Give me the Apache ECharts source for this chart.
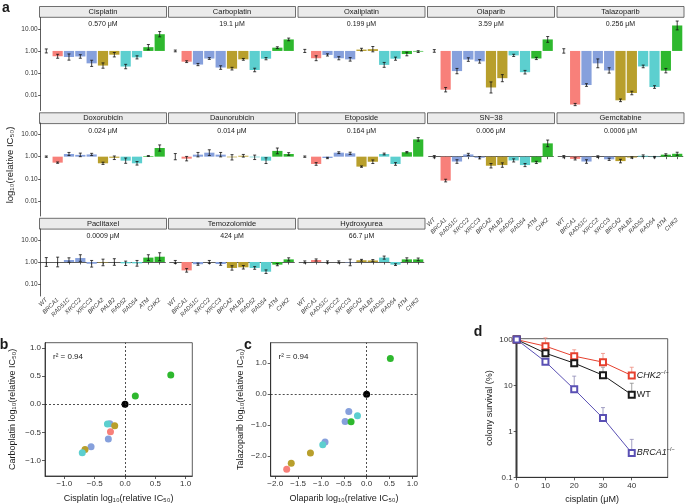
<!DOCTYPE html>
<html><head><meta charset="utf-8">
<script src="https://cdn.jsdelivr.net/npm/echarts@6/dist/echarts.min.js"></script>
<style>html,body{margin:0;padding:0;background:#fff}#c{width:685px;height:504px}</style>
</head><body><div id="c"></div>
<script>
// ---------------- DATA ----------------
const genes = ['WT','BRCA1','RAD51C','XRCC2','XRCC3','BRCA2','PALB2','RAD52','RAD54','ATM','CHK2'];
const drugs = ['Cisplatin','Carboplatin','Oxaliplatin','Olaparib','Talazoparib','Doxorubicin','Daunorubicin','Etoposide','SN\u221238','Gemcitabine','Paclitaxel','Temozolomide','Hydroxyurea'];
const wtIC50 = ['0.570 \u03bcM','19.1 \u03bcM','0.199 \u03bcM','3.59 \u03bcM','0.256 \u03bcM','0.024 \u03bcM','0.014 \u03bcM','0.164 \u03bcM','0.006 \u03bcM','0.0006 \u03bcM','0.0009 \u03bcM','424 \u03bcM','66.7 \u03bcM'];
// log10(relative IC50), gene order as in `genes`; *Err = half error bar (log units)
const cisplatin      = [0, -0.24, -0.275, -0.25, -0.56, -0.66, -0.17, -0.705, -0.29, 0.17, 0.755];
const cisplatinErr   = [0.09, 0.09, 0.14, 0.08, 0.14, 0.12, 0.10, 0.10, 0.07, 0.12, 0.12];
const carboplatin    = [0, -0.485, -0.615, -0.343, -0.75, -0.80, -0.38, -0.86, -0.35, 0.148, 0.52];
const carboplatinErr = [0.04, 0.04, 0.05, 0.04, 0.08, 0.06, 0.04, 0.08, 0.05, 0.04, 0.06];
const oxaliplatin    = [0, -0.33, -0.18, -0.33, -0.38, 0.06, 0.08, -0.63, -0.35, -0.14, -0.03];
const oxaliplatinErr = [0.07, 0.11, 0.05, 0.07, 0.08, 0.06, 0.12, 0.11, 0.07, 0.08, 0.04];
const olaparib       = [0, -1.75, -0.91, -0.39, -0.47, -1.65, -1.23, -0.20, -0.96, -0.34, 0.52];
const olaparibErr    = [0.06, 0.10, 0.12, 0.08, 0.08, 0.25, 0.16, 0.05, 0.08, 0.05, 0.13];
const talazoparib    = [0, -2.42, -1.54, -0.56, -0.88, -2.23, -1.90, -0.70, -1.63, -0.89, 1.15];
const talazoparibErr = [0.10, 0.05, 0.06, 0.20, 0.12, 0.06, 0.08, 0.06, 0.06, 0.10, 0.20];
const doxorubicin    = [0, -0.27, 0.12, 0.08, 0.10, -0.30, -0.05, -0.18, -0.30, 0.03, 0.39];
const doxorubicinErr = [0.03, 0.03, 0.07, 0.08, 0.05, 0.05, 0.08, 0.12, 0.08, 0.02, 0.14];
const daunorubicin   = [0, -0.09, 0.09, 0.18, 0.09, -0.03, 0.04, -0.03, -0.18, 0.26, 0.12];
const daunorubicinErr= [0.14, 0.10, 0.10, 0.13, 0.10, 0.12, 0.06, 0.10, 0.13, 0.13, 0.06];
const etoposide      = [0, -0.33, -0.06, 0.18, 0.15, -0.45, -0.23, 0.12, -0.33, 0.20, 0.78];
const etoposideErr   = [0.03, 0.06, 0.03, 0.04, 0.05, 0.03, 0.08, 0.04, 0.06, 0.03, 0.08];
const sn38           = [0, -1.08, -0.22, 0.10, -0.05, -0.41, -0.38, -0.17, -0.38, -0.26, 0.60];
const sn38Err        = [0.05, 0.06, 0.08, 0.05, 0.05, 0.10, 0.10, 0.07, 0.07, 0.05, 0.15];
const gemcitabine    = [0, -0.10, -0.22, 0, -0.12, -0.20, -0.04, 0.04, -0.02, 0.09, 0.13];
const gemcitabineErr = [0.05, 0.05, 0.08, 0.04, 0.05, 0.08, 0.03, 0.04, 0.03, 0.04, 0.07];
const paclitaxel     = [0, 0, 0.09, 0.18, -0.08, -0.02, 0, -0.06, -0.06, 0.20, 0.24];
const paclitaxelErr  = [0.20, 0.22, 0.10, 0.15, 0.15, 0.15, 0.15, 0.10, 0.13, 0.13, 0.18];
const temozolomide   = [0, -0.38, -0.10, 0, -0.09, -0.27, -0.24, -0.27, -0.44, -0.12, 0.12];
const temozolomideErr= [0.07, 0.08, 0.05, 0.07, 0.06, 0.10, 0.08, 0.06, 0.08, 0.05, 0.07];
const hydroxyurea    = [0, 0.09, 0, 0, -0.02, 0.08, 0.07, 0.20, -0.12, 0.12, 0.12];
const hydroxyureaErr = [0.05, 0.05, 0.05, 0.05, 0.15, 0.04, 0.04, 0.07, 0.04, 0.07, 0.06];
const barTickValues = [1, 0, -1, -2];          // log10 positions -> 10.00, 1.00, 0.10, 0.01
// panel d: colony survival (%)
const doses      = [0, 10, 20, 30, 40];
const survCHK2   = [100, 72, 43.6, 32.3, 16.5];
const survCHK2Up = [null, 109, 60, 50, 25];
const survWT     = [100, 50.6, 30.7, 16.8, 6.3];
const survWTUp   = [null, 55, 33, 25, 11.2];
const survBRCA1  = [100, 33, 8.3, 1.95, 0.34];
const survBRCA1Up= [null, 36, 16, 3.3, 0.67];

const means = [cisplatin,carboplatin,oxaliplatin,olaparib,talazoparib,doxorubicin,daunorubicin,etoposide,sn38,gemcitabine,paclitaxel,temozolomide,hydroxyurea];
const errs  = [cisplatinErr,carboplatinErr,oxaliplatinErr,olaparibErr,talazoparibErr,doxorubicinErr,daunorubicinErr,etoposideErr,sn38Err,gemcitabineErr,paclitaxelErr,temozolomideErr,hydroxyureaErr];

// ---------------- STYLE / LAYOUT ----------------
const geneColors = ['#d9d9d9','#f8807a','#86a0dc','#86a0dc','#86a0dc','#b89f2c','#b89f2c','#5ccfcf','#5ccfcf','#2eb82e','#2eb82e'];
const FONT = 'Liberation Sans, Arial, sans-serif';
const colX = [39.5, 168.5, 298, 427.5, 557];
const panelW = 127, unit = panelW / 11.2;
const rowsL = [
  {strip: 6.5,   top: 17.5, bottom: 110.5, min: -2.69, max: 1.51},
  {strip: 112.8, top: 123,  bottom: 216,   min: -2.68, max: 1.52},
  {strip: 218.3, top: 229,  bottom: 296,   min: -1.545, max: 1.50}
];
const minus = s => String(s).replace('-', '\u2212');

const grids = [], xAxes = [], yAxes = [], series = [], graphics = [];

function errRender(hw, topOnly) {
  return function (params, api) {
    const x = api.value(0), lo = api.value(1), hi = api.value(2);
    const p1 = api.coord([x, lo]), p2 = api.coord([x, hi]);
    const style = {stroke: api.visual('color'), lineWidth: 0.8};
    const ch = [
      {type: 'line', shape: {x1: p1[0], y1: p1[1], x2: p2[0], y2: p2[1]}, style},
      {type: 'line', shape: {x1: p2[0] - hw, y1: p2[1], x2: p2[0] + hw, y2: p2[1]}, style}
    ];
    if (!topOnly) ch.push({type: 'line', shape: {x1: p1[0] - hw, y1: p1[1], x2: p1[0] + hw, y2: p1[1]}, style});
    return {type: 'group', children: ch};
  };
}

drugs.forEach((d, i) => {
  const r = Math.floor(i / 5), c = i % 5, R = rowsL[r];
  const isBottom = (i >= 10) || i === 8 || i === 9;
  grids.push({left: colX[c] + unit * 0.1, width: unit * 11, top: R.top, height: R.bottom - R.top, outerBoundsMode: 'none', containLabel: false});
  xAxes.push({
    type: 'category', gridIndex: i, data: genes, boundaryGap: true,
    axisLine: {show: isBottom, lineStyle: {color: '#333', width: 0.8}},
    axisTick: {show: isBottom, length: 2.5, alignWithLabel: true, lineStyle: {color: '#333', width: 0.8}},
    axisLabel: {show: isBottom, rotate: 45, fontSize: 6, fontStyle: 'italic', color: '#333', margin: 3, interval: 0, fontFamily: FONT},
    splitLine: {show: false}
  });
  const tv = barTickValues.filter(v => v >= R.min && v <= R.max);
  yAxes.push({
    type: 'value', gridIndex: i, min: R.min, max: R.max,
    axisLine: {show: c === 0, lineStyle: {color: '#333', width: 0.8}},
    axisTick: {show: c === 0, length: 2.5, customValues: tv, lineStyle: {color: '#333', width: 0.8}},
    axisLabel: {show: c === 0, customValues: tv, fontSize: 6.5, color: '#333', margin: 3, fontFamily: FONT,
      formatter: v => Math.pow(10, v).toFixed(2)},
    splitLine: {show: false}
  });
  series.push({
    type: 'bar', xAxisIndex: i, yAxisIndex: i, barWidth: '90%', silent: true,
    data: means[i].map((v, k) => ({value: v, itemStyle: {color: geneColors[k]}}))
  });
  series.push({
    type: 'custom', xAxisIndex: i, yAxisIndex: i, silent: true, z: 5,
    itemStyle: {color: '#111'}, renderItem: errRender(1.5, false), encode: {x: 0, y: [1, 2]},
    data: means[i].map((v, k) => [k, v - errs[i][k], v + errs[i][k]])
  });
  graphics.push({type: 'rect', shape: {x: colX[c], y: R.strip, width: panelW, height: 10.8},
    style: {fill: '#ebebeb', stroke: '#4d4d4d', lineWidth: 0.8}});
  graphics.push({type: 'text', x: colX[c] + panelW / 2, y: R.strip + 5.6,
    style: {text: d, fontSize: 7.5, fontFamily: FONT, fill: '#1a1a1a', align: 'center', verticalAlign: 'middle'}});
  graphics.push({type: 'text', x: colX[c] + panelW / 2, y: R.strip + 18,
    style: {text: wtIC50[i], fontSize: 7, fontFamily: FONT, fill: '#1a1a1a', align: 'center', verticalAlign: 'middle'}});
});

// ---- scatter panels b, c ----
function scatterPanel(gi, box, xr, yr, xt, yt, xd, yd, xName, yName, yGap) {
  grids.push({left: box[0], top: box[1], width: box[2], height: box[3], show: true, borderColor: '#333', borderWidth: 0.8, outerBoundsMode: 'none', containLabel: false});
  const lab = {fontSize: 8, color: '#333', fontFamily: FONT, margin: 4};
  xAxes.push({type: 'value', gridIndex: gi, min: xr[0], max: xr[1],
    name: xName, nameLocation: 'middle', nameGap: 18, nameTextStyle: {fontSize: 9, fontFamily: FONT, color: '#1a1a1a'},
    axisLine: {show: true, onZero: false, lineStyle: {color: '#222', width: 0.8}},
    axisTick: {show: true, length: 3, customValues: xt, lineStyle: {color: '#333', width: 0.8}},
    axisLabel: Object.assign({customValues: xt, formatter: v => minus(v.toFixed(1))}, lab),
    splitLine: {show: false}});
  yAxes.push({type: 'value', gridIndex: gi, min: yr[0], max: yr[1],
    name: yName, nameLocation: 'middle', nameGap: yGap, nameTextStyle: {fontSize: 9, fontFamily: FONT, color: '#1a1a1a'},
    axisLine: {show: true, onZero: false, lineStyle: {color: '#222', width: 0.8}},
    axisTick: {show: true, length: 3, customValues: yt, lineStyle: {color: '#333', width: 0.8}},
    axisLabel: Object.assign({customValues: yt, formatter: v => minus(v.toFixed(1))}, lab),
    splitLine: {show: false}});
  series.push({type: 'scatter', xAxisIndex: gi, yAxisIndex: gi, symbolSize: 7, silent: true,
    data: genes.map((g, k) => ({value: [xd[k], yd[k]], itemStyle: {color: k === 0 ? '#000' : geneColors[k], opacity: 1}})),
    markLine: {silent: true, symbol: 'none', label: {show: false}, animation: false,
      lineStyle: {type: [2, 2], color: '#222', width: 0.8}, data: [{xAxis: 0}, {yAxis: 0}]},
    z: 3});
}
scatterPanel(13, [45, 342.7, 147.3, 133.3], [-1.32, 1.11], [-1.27, 1.09], [-1, -0.5, 0, 0.5, 1], [-1, -0.5, 0, 0.5, 1],
  cisplatin, carboplatin, 'Cisplatin log\u2081\u2080(relative IC\u2085\u2080)', 'Carboplatin log\u2081\u2080(relative IC\u2085\u2080)', 28);
scatterPanel(14, [270.7, 342.7, 146.6, 133.3], [-2.1, 1.11], [-2.64, 1.66], [-2, -1.5, -1, -0.5, 0, 0.5, 1], [-2, -1, 0, 1],
  olaparib, talazoparib, 'Olaparib log\u2081\u2080(relative IC\u2085\u2080)', 'Talazoparib log\u2081\u2080(relative IC\u2085\u2080)', 26);

// ---- panel d ----
grids.push({left: 516.7, top: 338.7, width: 151, height: 138.6, show: true, borderColor: '#333', borderWidth: 0.8, outerBoundsMode: 'none', containLabel: false});
xAxes.push({type: 'value', gridIndex: 15, min: 0, max: 52.5,
  name: 'cisplatin (\u03bcM)', nameLocation: 'middle', nameGap: 18, nameTextStyle: {fontSize: 9, fontFamily: FONT, color: '#1a1a1a'},
  axisLine: {show: true, onZero: false, lineStyle: {color: '#222', width: 0.8}},
  axisTick: {show: true, length: 3, customValues: doses, lineStyle: {color: '#333', width: 0.8}},
  axisLabel: {customValues: doses, fontSize: 8, color: '#333', fontFamily: FONT, margin: 4},
  splitLine: {show: false}});
const dTicks = [-1, 0, 1, 2];
yAxes.push({type: 'value', gridIndex: 15, min: -1, max: 2.02,
  name: 'colony survival (%)', nameLocation: 'middle', nameGap: 23, nameTextStyle: {fontSize: 9, fontFamily: FONT, color: '#1a1a1a'},
  axisLine: {show: true, onZero: false, lineStyle: {color: '#222', width: 0.8}},
  axisTick: {show: true, length: 3, customValues: dTicks, lineStyle: {color: '#333', width: 0.8}},
  axisLabel: {customValues: dTicks, fontSize: 8, color: '#333', fontFamily: FONT, margin: 4,
    formatter: v => String(Math.round(Math.pow(10, v) * 10) / 10)},
  splitLine: {show: false}});
const strains = [
  {name: 'CHK2', y: survCHK2, up: survCHK2Up, color: '#e6402e', err: '#ef8a7e', label: '{i|CHK2}{s|\u2212/\u2212}'},
  {name: 'WT', y: survWT, up: survWTUp, color: '#1a1a1a', err: '#8c8c8c', label: '{n|WT}'},
  {name: 'BRCA1', y: survBRCA1, up: survBRCA1Up, color: '#5a50b4', err: '#8d89b5', label: '{i|BRCA1}{s|\u2212/\u2212}'}
];
strains.forEach((s, si) => {
  series.push({type: 'custom', xAxisIndex: 15, yAxisIndex: 15, silent: true, z: 1,
    itemStyle: {color: s.err}, renderItem: errRender(2, true), encode: {x: 0, y: [1, 2]},
    data: doses.map((d, k) => s.up[k] == null ? null : [d, Math.log10(s.y[k]), Math.log10(s.up[k])]).filter(x => x)});
  const ser = {type: 'line', xAxisIndex: 15, yAxisIndex: 15, silent: true, z: 3,
    symbol: 'emptyRect', symbolSize: 6, color: s.color, lineStyle: {width: 1, color: s.color},
    itemStyle: {color: s.color, borderWidth: 1},
    data: doses.map((d, k) => [d, Math.log10(s.y[k])]),
    endLabel: {show: true, distance: 5, formatter: s.label, color: '#1a1a1a',
      rich: {i: {fontStyle: 'italic', fontSize: 9, fontFamily: FONT, color: '#1a1a1a', lineHeight: 12},
             n: {fontSize: 9, fontFamily: FONT, color: '#1a1a1a', lineHeight: 12},
             s: {fontSize: 5.5, fontFamily: FONT, color: '#1a1a1a', verticalAlign: 'top'}}}
  };
  if (si === 1) {
    ser.markLine = {silent: true, symbol: 'none', label: {show: false}, animation: false, z: 0,
      lineStyle: {type: 'solid', color: '#9a9a9a', width: 3},
      data: [[{coord: [0, 2]}, {coord: [0, -1]}]]};
  }
  series.push(ser);
});

// ---- text annotations ----
const T = (x, y, text, o) => graphics.push({type: 'text', x, y, style: Object.assign({text, fontFamily: FONT, fill: '#1a1a1a', align: 'left', verticalAlign: 'middle', fontSize: 8}, o || {})});
T(2, 8, 'a', {fontSize: 14, fontWeight: 'bold'});
T(4, 345, 'b', {fontSize: 14, fontWeight: 'bold', align: 'center'});
T(248, 345, 'c', {fontSize: 14, fontWeight: 'bold', align: 'center'});
T(478, 332, 'd', {fontSize: 14, fontWeight: 'bold', align: 'center'});
T(53, 357, 'r\u00b2 = 0.94', {fontSize: 8});
T(278.5, 357, 'r\u00b2 = 0.94', {fontSize: 8});
graphics.push({type: 'text', x: 10, y: 165, rotation: Math.PI / 2,
  style: {text: 'log\u2081\u2080(relative IC\u2085\u2080)', fontFamily: FONT, fontSize: 9.5, fill: '#1a1a1a', align: 'center', verticalAlign: 'middle'}});

const chart = echarts.init(document.getElementById('c'), null, {renderer: 'canvas'});
chart.setOption({
  animation: false, backgroundColor: '#fff',
  textStyle: {fontFamily: FONT},
  grid: grids, xAxis: xAxes, yAxis: yAxes, series, graphic: {elements: graphics}
});
</script></body></html>
